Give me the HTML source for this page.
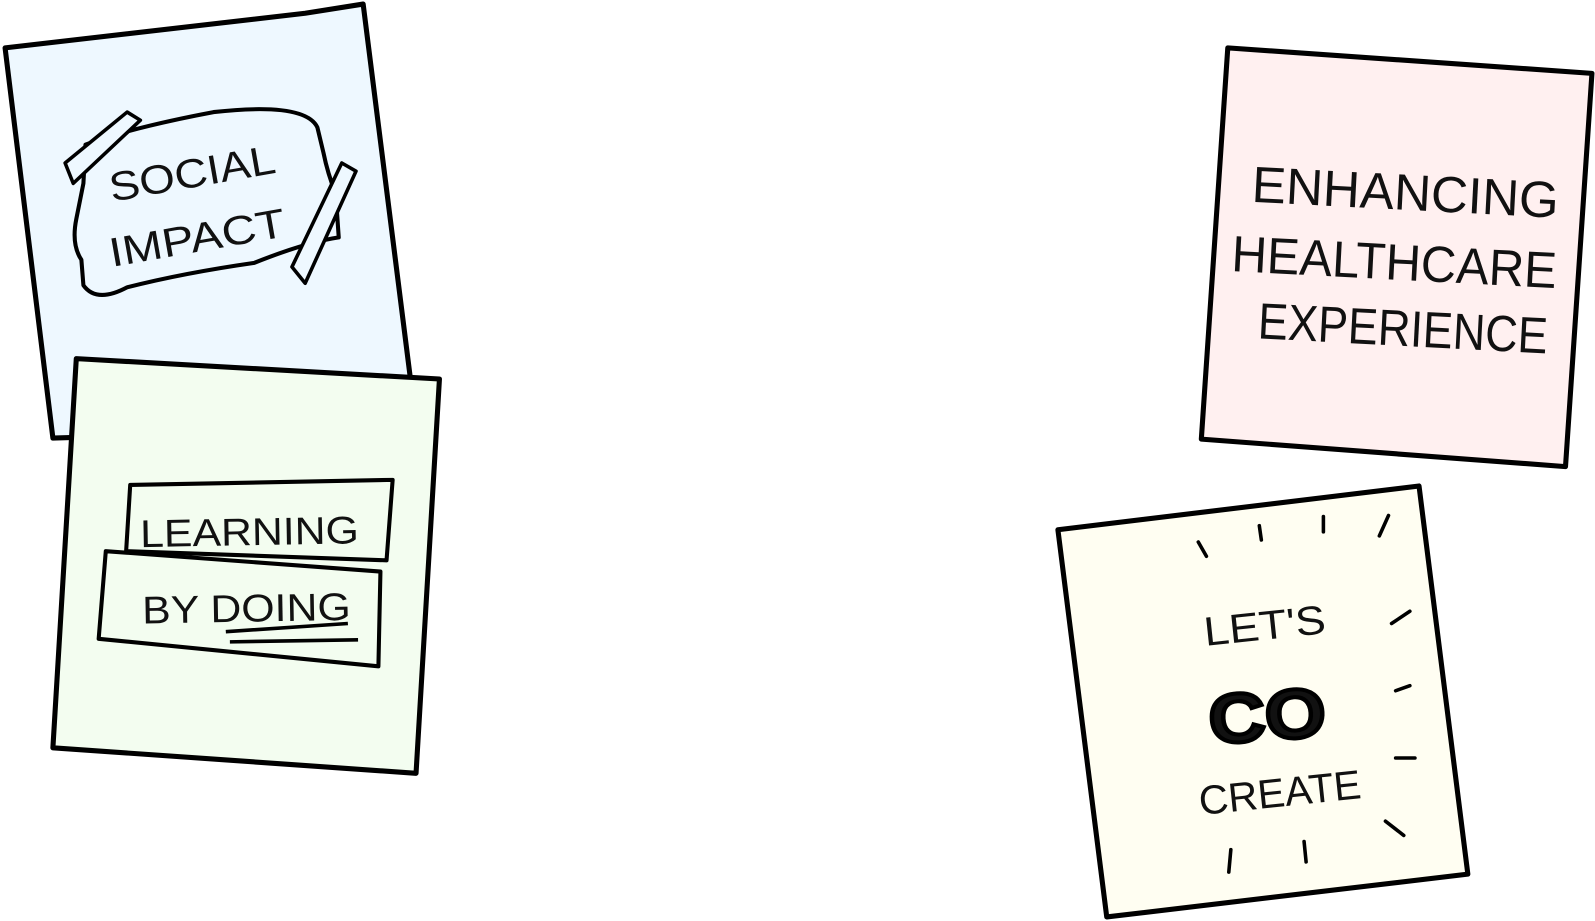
<!DOCTYPE html>
<html><head><style>
html,body{margin:0;padding:0;background:#fff;width:1595px;height:921px;overflow:hidden}
svg{display:block}
text{font-family:"Liberation Sans",sans-serif;fill:#111}
</style></head><body>
<svg width="1595" height="921" viewBox="0 0 1568 904" preserveAspectRatio="none">
<g stroke="#000" stroke-width="5" stroke-linejoin="round" fill="none">
<path d="M5,47 L300,13 L357,4 L403,368 L390,420 L52,430 Z" fill="#eef8ff"/>
<path d="M84,142 Q130,125 210,110 Q300,100 312,125 L318,150 Q322,170 330,190 L333,233 Q300,238 250,258 Q180,268 125,282 Q95,298 82,280 L80,255 Q70,240 75,215 L82,180 Z" fill="#eef8ff" stroke-width="4"/>
<path d="M64,160 L125,110 L138,118 L72,180 Z" fill="#eef8ff" stroke-width="3.5"/>
<path d="M287,262 L336,160 L350,168 L300,278 Z" fill="#eef8ff" stroke-width="3.5"/>
<path d="M75,352 L432,372 L409,759 L52,734 Z" fill="#f3fdf0"/>
<path d="M128,476 L386,471 L380,550 L124,541 Z" fill="#f3fdf0" stroke-width="4"/>
<path d="M104,541 L374,561 L372,654 L97,627 Z" fill="#f3fdf0" stroke-width="4"/>
<path d="M222,620 L342,612 M226,630 L352,628" stroke-width="3.5"/>
<path d="M1207,47 L1565,72 L1539,458 L1181,431 Z" fill="#fff0f0"/>
<path d="M1040,520 L1395,477 L1443,858 L1088,900 Z" fill="#fffef2"/>
<g stroke-width="3.5" stroke-linecap="round">
<path d="M1178,532 L1186,546 M1238,516 L1240,530 M1301,507 L1301,522 M1365,506 L1356,526 M1368,612 L1386,600 M1372,678 L1386,673 M1372,744 L1391,744 M1362,806 L1380,820 M1210,834 L1208,856 M1282,826 L1284,846"/>
</g>
</g>
<g font-size="40">
<text x="110" y="198" transform="rotate(-10 110 198)" textLength="165" lengthAdjust="spacingAndGlyphs">SOCIAL</text>
<text x="110" y="262" transform="rotate(-10 110 262)" textLength="175" lengthAdjust="spacingAndGlyphs">IMPACT</text>
<text x="138" y="537" transform="rotate(-1 138 537)" font-size="38" textLength="215" lengthAdjust="spacingAndGlyphs">LEARNING</text>
<text x="140" y="612" transform="rotate(-1 140 612)" font-size="38" textLength="205" lengthAdjust="spacingAndGlyphs">BY DOING</text>
<text x="1230" y="198" transform="rotate(3 1230 198)" font-size="50" textLength="302" lengthAdjust="spacingAndGlyphs">ENHANCING</text>
<text x="1210" y="266" transform="rotate(3 1210 266)" font-size="50" textLength="320" lengthAdjust="spacingAndGlyphs">HEALTHCARE</text>
<text x="1236" y="332" transform="rotate(3 1236 332)" font-size="50" textLength="285" lengthAdjust="spacingAndGlyphs">EXPERIENCE</text>
<text x="1185" y="634" transform="rotate(-6 1185 634)" font-size="40" textLength="120" lengthAdjust="spacingAndGlyphs">LET'S</text>
<text x="1190" y="730" transform="rotate(-4 1190 730)" font-size="68" font-weight="bold" fill="#fffef2" stroke="#000" stroke-width="4" textLength="115" lengthAdjust="spacingAndGlyphs">CO</text>
<text x="1180" y="800" transform="rotate(-6 1180 800)" font-size="40" textLength="160" lengthAdjust="spacingAndGlyphs">CREATE</text>
</g>
</svg>
</body></html>
